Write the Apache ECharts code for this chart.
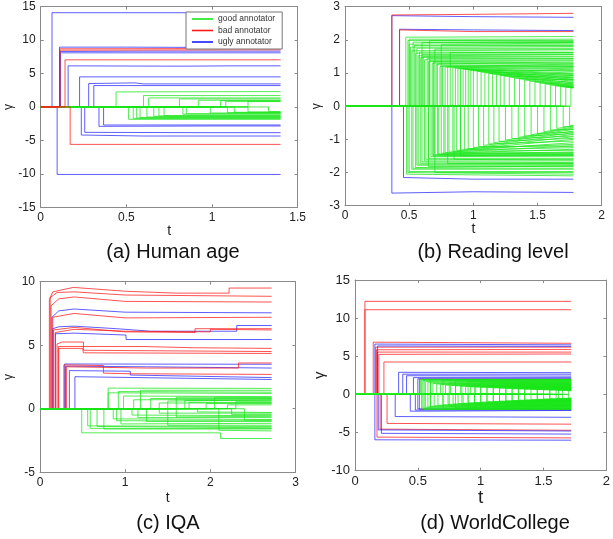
<!DOCTYPE html>
<html><head><meta charset="utf-8">
<script src="https://cdn.jsdelivr.net/npm/echarts@6/dist/echarts.min.js"></script>
<style>html,body{margin:0;padding:0;background:#fff}#c{width:613px;height:539px}</style>
</head><body><div id="c"></div>
<script>
// ---------- data: each path = [t0, v0, t1, v1, ...] (path is 0 before t0) ----------
const tEnd = [1.4, 1.78, 2.72, 1.72];

const aUgly = [
 [0.066,14.1],[0.096,-10.1],[0.11,8.95,0.5,8.95,1.0,8.9],[0.112,8.3,0.6,8.35],[0.115,8.1],
 [0.16,6.15,0.83,6.1,1.1,6.15],[0.227,4.5],[0.237,-4.2,0.6,-4.35],[0.257,-3.8,1.0,-3.85],
 [0.28,3.5,0.55,3.6,0.6,3.45],[0.31,3.2],[0.34,-2.9,1.0,-2.85],[0.367,-2.7]
];
const aBad = [[0.11,8.7,1.4,8.75],[0.113,8.5,1.4,8.55],[0.142,7.05],[0.172,-5.6]];
const aGood = [
 [0.44,2.25,1.4,2.3],[0.6,1.7],[0.63,1.35],[0.81,1.2],[0.92,1.0],[1.05,0.95],[1.08,0.8],[1.21,0.85],
 [0.513,-1.85],[0.54,-1.75],[0.56,-1.65],[0.58,-1.6],[0.62,-1.5],[0.66,-1.4],[0.69,-1.35],[0.72,-1.3],
 [0.83,-1.1],[0.85,-1.0],[0.99,-0.9],[1.09,-0.85],[1.13,-0.8],[1.21,-0.75],[1.33,-0.7]
];

const bUgly = [[0.365,2.73,1.0,2.7,1.78,2.68],[0.365,-2.62,1.0,-2.58,1.78,-2.6],[0.425,2.32,1.0,2.3,1.78,2.28],[0.456,-2.15,1.0,-2.2,1.78,-2.2]];
const bBad = [[0.365,2.75,1.0,2.77,1.78,2.8],[0.425,2.3,1.0,2.25,1.78,2.25]];
const bGood = [
 [0.474,2.08,1.78,2.1],[0.49,1.98,1.78,1.95],[0.50,1.87,1.78,1.9],[0.51,1.78,1.78,1.8],[0.52,1.67,1.78,1.7],
 [0.55,1.6,1.78,1.6],[0.57,1.52,1.78,1.55],[0.59,1.47,1.78,1.45],[0.62,1.4,1.78,1.4],[0.65,1.35,1.78,1.3],
 [0.68,1.3,1.78,1.25],[0.71,1.25,1.78,1.2],[0.74,1.2,1.78,1.17],[0.78,1.18,1.78,1.13],
 [0.5,2.02],[0.53,1.93],[0.54,1.83],[0.56,1.75],[0.58,1.63],[0.6,1.56],[0.61,1.5],[0.64,1.44],[0.66,1.37],
 [0.69,1.33],[0.72,1.28],[0.76,1.22],[0.8,1.19],[0.6,1.92],[0.7,1.72],[0.82,1.62],[0.75,1.85],[0.66,1.98],
 [0.84,1.16,1.78,1.1],[0.86,1.15,1.78,0.95],[0.88,1.14,1.78,1.05],[0.90,1.13,1.78,0.85],[0.92,1.12,1.78,1.0],
 [0.94,1.11,1.78,0.8],[0.96,1.1,1.78,0.92],[0.98,1.09,1.78,1.07],[1.00,1.07,1.78,0.75],[1.03,1.05,1.78,0.88],
 [1.06,1.03,1.78,0.98],[1.09,1.01,1.78,0.7],[1.12,0.99,1.78,0.82],[1.15,0.97,1.78,0.93],[1.18,0.95,1.78,0.66],
 [1.21,0.93,1.78,0.78],[1.24,0.91,1.78,0.87],[1.28,0.88,1.78,0.62],[1.32,0.85,1.78,0.72],[1.36,0.82,1.78,0.8],
 [1.40,0.79,1.78,0.6],[1.44,0.76,1.78,0.68],[1.48,0.73,1.78,0.58],[1.52,0.7,1.78,0.65],[1.56,0.67,1.78,0.57],
 [1.60,0.64,1.78,0.6],[1.64,0.61,1.78,0.56],[1.68,0.59,1.78,0.57],[1.72,0.57,1.78,0.56],[1.76,0.55,1.78,0.55],
 [0.48,-2.05,1.78,-2.1],[0.49,-2.0,1.78,-2.05],[0.52,-1.9,1.78,-1.9],[0.55,-1.85,1.78,-1.8],[0.57,-1.75,1.78,-1.75],
 [0.60,-1.68,1.78,-1.7],[0.63,-1.6,1.78,-1.62],[0.67,-1.52,1.78,-1.5],[0.69,-1.5,1.78,-1.45],[0.70,-1.46,1.78,-1.4],
 [0.5,-1.97],[0.53,-1.87],[0.56,-1.78],[0.59,-1.72],[0.62,-1.65],[0.65,-1.57],[0.68,-1.48],[0.73,-1.47],
 [0.77,-1.44],[0.8,-1.73],[0.7,-2.0],[0.85,-1.6],[0.9,-1.5],[0.65,-1.82],
 [0.72,-1.44,1.78,-1.38],[0.75,-1.42,1.78,-1.3],[0.78,-1.4,1.78,-1.42],[0.81,-1.38,1.78,-1.2],[0.84,-1.36,1.78,-1.33],
 [0.87,-1.34,1.78,-1.1],[0.90,-1.32,1.78,-1.25],[0.93,-1.3,1.78,-1.0],[0.96,-1.28,1.78,-1.15],[1.0,-1.25,1.78,-0.92],
 [1.04,-1.22,1.78,-1.2],[1.08,-1.18,1.78,-0.85],[1.12,-1.14,1.78,-1.05],[1.16,-1.1,1.78,-0.8],[1.20,-1.06,1.78,-0.97],
 [1.25,-1.02,1.78,-0.75],[1.30,-0.98,1.78,-0.9],[1.35,-0.94,1.78,-0.7],[1.40,-0.9,1.78,-0.83],[1.45,-0.86,1.78,-0.66],
 [1.50,-0.82,1.78,-0.78],[1.55,-0.77,1.78,-0.63],[1.60,-0.72,1.78,-0.7],[1.65,-0.67,1.78,-0.6],[1.70,-0.62,1.78,-0.6],
 [1.75,-0.58,1.78,-0.58]
];

const cUgly = [
 [0.14,7.2,0.22,7.7,0.4,7.85,1.0,7.6,2.72,7.55],
 [0.15,6.3,0.22,6.45,0.4,6.5,0.9,6.3,1.3,6.1,2.31,6.1,2.31,6.55,2.72,6.55],
 [0.18,5.9,0.4,5.95,1.01,5.8,1.01,5.45,2.72,5.45],
 [0.29,3.52,2.72,3.5],
 [0.30,3.35,1.25,3.3,1.25,3.2,2.72,3.2],
 [0.345,3.0,1.06,2.95,1.06,2.65,2.72,2.45],
 [0.41,2.52,2.72,2.3]
];
const cBad = [
 [0.11,8.6,0.15,9.2,0.39,9.55,1.0,9.25,1.6,9.1,2.22,9.1,2.22,9.5,2.72,9.5],
 [0.12,8.75,0.2,9.15,0.4,9.2,1.0,8.95,2.72,8.85],
 [0.13,8.1,0.22,8.65,0.4,8.8,1.0,8.45,2.72,8.4],
 [0.15,7.2,0.4,7.5,1.0,7.15,2.72,7.2],
 [0.16,6.2,0.4,6.4,1.0,6.05,1.82,6.0,1.82,6.3,2.72,6.3],
 [0.18,6.0,0.4,6.25,1.0,6.1,2.0,6.05,2.0,6.25,2.72,6.2],
 [0.2,5.1,0.26,5.25,0.51,5.25,0.51,4.6,2.72,4.5],
 [0.215,4.9,1.2,4.9,1.8,4.8,2.72,4.75],
 [0.22,4.75,0.5,4.75,0.51,4.4,2.72,4.35],
 [0.28,3.45,0.745,3.4,0.745,2.8,1.06,2.75,2.72,2.7],
 [0.31,3.3,1.25,3.2,2.33,3.2,2.33,3.6,2.72,3.6]
];
const cGood = [
 [0.8,1.62,2.72,1.6],[0.8,1.25,2.72,1.2],[0.98,1.0,2.72,0.95],[1.18,1.45,2.72,1.45],[1.3,0.8],[1.5,0.6,2.72,0.7],
 [1.6,0.9],[1.75,0.5],[1.95,0.4],[2.2,0.3],[1.1,0.7,2.72,0.75],[2.3,0.55],[1.4,0.45],[0.92,1.35,2.72,1.3],
 [1.7,0.65],[2.05,0.85],
 [0.49,-1.9,2.12,-1.9,2.12,-2.35,2.72,-2.35],[0.56,-1.35,2.72,-1.4],[0.59,-1.55],[0.67,-1.4,2.72,-1.5],
 [0.86,-0.8,2.72,-0.85],[0.95,-1.2,2.72,-1.15],[1.08,-0.5,2.72,-0.55],[1.25,-1.0],[1.4,-0.35],[1.6,-0.65,2.72,-0.6],
 [1.85,-0.25,2.72,-0.3],[2.1,-1.7,2.72,-1.75],[0.75,-1.6],[2.25,-0.45],[0.9,-0.95],[1.15,-0.7],[1.5,-1.3],[2.4,-0.9]
];

const dUgly = [
 [0.158,6.6,1.72,6.5],[0.158,-5.95,1.72,-6.0],[0.18,6.35,1.72,6.3],[0.185,-4.65,1.72,-4.8],[0.21,-5.1,1.72,-5.2],
 [0.32,-2.9,1.72,-3.0],[0.347,2.9,1.72,2.85],[0.38,2.65],[0.41,2.45,1.72,2.4],[0.44,-2.2,1.72,-2.1],
 [0.465,2.2],[0.5,2.05],[0.5,-1.9],[0.48,-2.05]
];
const dBad = [
 [0.079,12.2],[0.079,11.1],[0.145,6.85,1.72,6.7],[0.165,6.2],[0.171,5.85,1.72,5.9],[0.18,5.55],
 [0.19,5.25,1.72,5.3],[0.23,4.25],[0.175,-5.6,1.72,-5.7],[0.2,-4.55,1.72,-4.7],[0.255,-3.8,1.72,-3.9],
 [0.513,2.0],[0.513,-1.95]
];
const dGood = [
 [0.52,1.95,1.72,1.95],[0.53,1.9,1.72,1.88],[0.54,1.8,1.72,1.83],[0.56,1.7,1.72,1.74],[0.58,1.6,1.72,1.62],
 [0.6,1.5,1.72,1.55],[0.62,1.42,1.72,1.45],[0.65,1.35,1.72,1.38],[0.68,1.28,1.72,1.3],[0.72,1.22,1.72,1.25],
 [0.76,1.17,1.72,1.2],[0.8,1.12,1.72,1.14],[0.84,1.08,1.72,1.1],[0.88,1.04,1.72,1.05],[0.92,1.0,1.72,1.02],
 [0.96,0.97,1.72,0.98],[1.0,0.94,1.72,0.95],[1.05,0.9,1.72,0.92],[1.1,0.86,1.72,0.87],[1.15,0.82,1.72,0.84],
 [1.2,0.78,1.72,0.8],[1.25,0.75,1.72,0.76],[1.3,0.72,1.72,0.73],[1.35,0.69,1.72,0.7],[1.4,0.66,1.72,0.67],
 [1.45,0.63,1.72,0.64],[1.5,0.6,1.72,0.61],[1.55,0.57,1.72,0.58],[1.6,0.54,1.72,0.55],[1.65,0.51,1.72,0.52],
 [1.7,0.48,1.72,0.48],
 [0.55,1.98],[0.6,1.92],[0.7,1.85],[0.8,1.75],[0.9,1.68],[1.0,1.6],[1.1,1.5],[1.2,1.4],[1.3,1.3],[0.75,1.5],
 [0.85,1.35],[0.95,1.2],[1.05,1.1],[1.15,1.0],[1.25,0.9],[1.35,0.8],[1.45,0.72],[1.55,0.65],[1.62,0.6],
 [0.53,-1.9,1.72,-1.88],[0.54,-1.8,1.72,-1.82],[0.56,-1.7,1.72,-1.74],[0.58,-1.62,1.72,-1.65],[0.6,-1.55,1.72,-1.58],
 [0.63,-1.48,1.72,-1.5],[0.66,-1.42,1.72,-1.45],[0.7,-1.36,1.72,-1.38],[0.74,-1.3,1.72,-1.33],[0.78,-1.25,1.72,-1.27],
 [0.82,-1.2,1.72,-1.22],[0.86,-1.15,1.72,-1.17],[0.9,-1.1,1.72,-1.12],[0.95,-1.05,1.72,-1.07],[1.0,-1.0,1.72,-1.02],
 [1.05,-0.96,1.72,-0.97],[1.1,-0.92,1.72,-0.93],[1.15,-0.88,1.72,-0.89],[1.2,-0.84,1.72,-0.85],[1.25,-0.8,1.72,-0.81],
 [1.3,-0.76,1.72,-0.77],[1.35,-0.72,1.72,-0.73],[1.4,-0.68,1.72,-0.69],[1.45,-0.64,1.72,-0.65],[1.5,-0.6,1.72,-0.61],
 [1.55,-0.57,1.72,-0.58],[1.6,-0.54,1.72,-0.55],[1.65,-0.51,1.72,-0.52],[1.7,-0.48,1.72,-0.48],
 [0.55,-1.98],[0.6,-1.95],[0.7,-1.85],[0.8,-1.78],[0.9,-1.7],[1.0,-1.62],[1.1,-1.52],[1.2,-1.42],[1.3,-1.3],
 [0.75,-1.55],[0.85,-1.4],[0.95,-1.25],[1.05,-1.12],[1.15,-1.0],[1.25,-0.9],[1.35,-0.8],[1.45,-0.72],[1.55,-0.64],[1.62,-0.58]
];

const xMax = [1.5, 2, 3, 2], xStep = [0.5, 0.5, 1, 0.5];
const yMin = [-15, -3, -5, -10], yMax = [15, 3, 10, 15], yStep = [5, 1, 5, 5];
const captions = ['(a) Human age', '(b) Reading level', '(c) IQA', '(d) WorldCollege'];
const legendNames = ['good annotator', 'bad annotator', 'ugly annotator'];

// ---------- layout ----------
const grids = [
  {left: 40.7, top: 6.7, width: 257, height: 200.5},
  {left: 345, top: 6.7, width: 256.7, height: 199},
  {left: 40, top: 281.7, width: 255.5, height: 190.5},
  {left: 355, top: 280, width: 253, height: 190.7}
];
const GREEN = '#19e619', RED = '#ff1a1a', BLUE = '#1a1aff';
const FONT = 'Arial, "Liberation Sans", sans-serif';
const axisCol = '#8a8a8a';

const xAxes = [], yAxes = [], series = [];
const labelSize = [12, 12, 12, 13];
const tGap = [12, 14, 19, 8], tSize = [14, 14, 14, 19];
const gGap = [24, 22, 25, 28], gSize = [12, 12, 12, 15];

for (let i = 0; i < 4; i++) {
  const common = {gridIndex: i, type: 'value', min: 0, max: xMax[i], interval: xStep[i],
    axisLine: {show: true, onZero: false, lineStyle: {color: axisCol, width: 1}},
    axisTick: {show: true, inside: true, length: 3, lineStyle: {color: axisCol}},
    splitLine: {show: false}};
  xAxes.push(Object.assign({}, common, {position: 'bottom',
    axisLabel: {color: '#222', fontSize: labelSize[i], fontFamily: FONT, margin: 4},
    name: 't', nameLocation: 'middle', nameGap: tGap[i],
    nameTextStyle: {color: '#222', fontSize: tSize[i], fontFamily: FONT}}));
  xAxes.push(Object.assign({}, common, {position: 'top', axisLabel: {show: false}}));
  const ycommon = {gridIndex: i, type: 'value', min: yMin[i], max: yMax[i], interval: yStep[i],
    axisLine: {show: true, onZero: false, lineStyle: {color: axisCol, width: 1}},
    axisTick: {show: true, inside: true, length: 3, lineStyle: {color: axisCol}},
    splitLine: {show: false}};
  yAxes.push(Object.assign({}, ycommon, {position: 'left',
    axisLabel: {color: '#222', fontSize: labelSize[i], fontFamily: FONT, margin: 5},
    name: 'γ', nameLocation: 'middle', nameGap: gGap[i], nameRotate: 90,
    nameTextStyle: {color: '#222', fontSize: gSize[i], fontFamily: FONT}}));
  yAxes.push(Object.assign({}, ycommon, {position: 'right', axisLabel: {show: false}}));
}

function build(path, T) {
  const pts = [[0, 0], [path[0], 0]];
  for (let k = 0; k < path.length; k += 2) pts.push([path[k], path[k + 1]]);
  const last = pts[pts.length - 1];
  if (last[0] < T) pts.push([T, last[1]]);
  return pts;
}
function addGroup(panel, paths, name, color, opacity) {
  paths.forEach(p => series.push({
    type: 'line', name: name, xAxisIndex: panel * 2, yAxisIndex: panel * 2,
    data: build(p, tEnd[panel]), symbol: 'none', showSymbol: false, silent: true,
    lineStyle: {color: color, width: 1, opacity: opacity}, itemStyle: {color: color},
    animation: false, z: 2
  }));
}
const groups = [
  [[aUgly, 2], [aGood, 0], [aBad, 1]],
  [[bUgly, 2], [bBad, 1], [bGood, 0]],
  [[cUgly, 2], [cBad, 1], [cGood, 0]],
  [[dBad, 1], [dUgly, 2], [dGood, 0]]
];
const cols = [GREEN, RED, BLUE], ops = [0.75, 0.75, 0.7];
groups.forEach((g, i) => g.forEach(([paths, c]) => addGroup(i, paths, legendNames[c], cols[c], ops[c])));

const capPos = [[173, 252], [493, 252], [168, 523], [495, 523]];
const graphic = captions.map((t, i) => ({type: 'text', x: capPos[i][0], y: capPos[i][1],
  style: {text: t, font: '20px ' + FONT, fill: '#111', textAlign: 'center', textVerticalAlign: 'middle'}}));

const chart = echarts.init(document.getElementById('c'), null, {renderer: 'canvas'});
chart.setOption({
  animation: false,
  grid: grids,
  xAxis: xAxes, yAxis: yAxes, series: series,
  legend: {data: legendNames.map((n, i) => ({name: n, icon: 'rect', itemStyle: {color: cols[i], opacity: 1}})),
    orient: 'vertical', left: 186, top: 12, itemWidth: 21, itemHeight: 1.6, itemGap: 1.5,
    padding: [2, 7, 2, 6], borderColor: '#777', borderWidth: 1, backgroundColor: '#fff',
    textStyle: {fontSize: 8.5, color: '#333', fontFamily: FONT, lineHeight: 10},
    selectedMode: false, z: 10},
  graphic: graphic
});
</script></body></html>
